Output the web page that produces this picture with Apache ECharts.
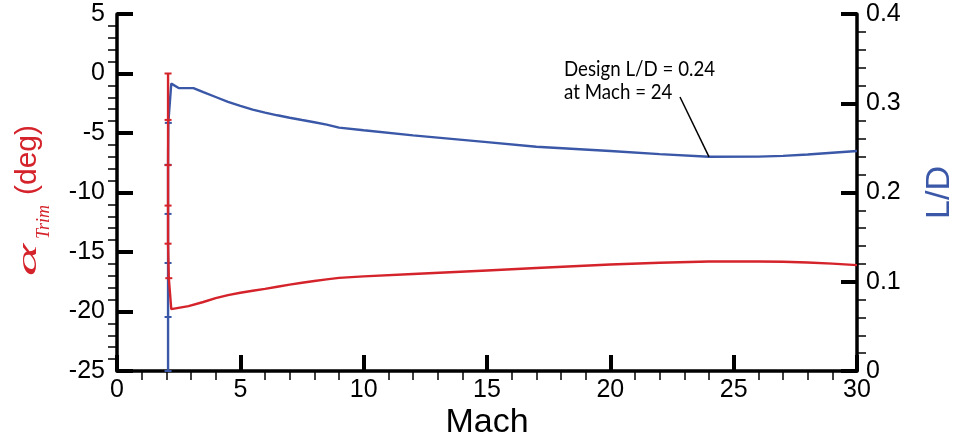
<!DOCTYPE html>
<html>
<head>
<meta charset="utf-8">
<script src="https://cdn.jsdelivr.net/npm/echarts@6/dist/echarts.min.js"></script>
<style>
  html, body { margin: 0; padding: 0; background: #ffffff; }
  #chart { width: 954px; height: 437px; }
</style>
</head>
<body>
<div id="chart"></div>
<script>
// Trim angle of attack versus Mach number (left axis)
const alphaMach = [2.07, 2.07, 2.07, 2.07, 2.07, 2.1, 2.2,
  2.9, 3.5, 4.0, 4.5, 5.0, 5.5, 6.0, 6.5, 7.0, 7.5, 8.0, 8.5, 9.0,
  10, 12, 15, 17, 20, 22, 24, 26, 27, 28, 29, 30];
const alphaTrim = [0, -3.9, -7.7, -11.1, -14.3, -17.2, -19.8,
  -19.55, -19.2, -18.88, -18.62, -18.42, -18.26, -18.1, -17.92, -17.74, -17.58, -17.44, -17.3, -17.17,
  -17.05, -16.85, -16.55, -16.35, -16.05, -15.9, -15.8, -15.8, -15.82, -15.88, -15.98, -16.1];

// Lift-to-drag ratio versus Mach number (right axis)
const ldMach = [2.07, 2.07, 2.07, 2.07, 2.07, 2.08, 2.2,
  2.5, 3.1, 3.5, 4.0, 4.5, 5.0, 5.5, 6.0, 6.5, 7.0, 7.5, 8.0, 8.5, 9.0,
  10, 12, 15, 17, 20, 22, 24, 26, 27, 28, 29, 30];
const liftDrag = [0, 0.0605, 0.121, 0.176, 0.231, 0.278, 0.322,
  0.317, 0.317, 0.3125, 0.307, 0.3015, 0.297, 0.2928, 0.2895, 0.2865, 0.2838, 0.2812, 0.2787, 0.276, 0.2727,
  0.2697, 0.264, 0.2565, 0.2513, 0.2465, 0.243, 0.24, 0.2402, 0.241, 0.2425, 0.2445, 0.2465];

// Number of leading points that belong to the low-Mach trim sweep (drawn with markers)
const sweepCount = 6;

// Design point
const designMach = 24;
const designLD = 0.24;

// Axis ranges
const machTicks = { min: 0, max: 30, interval: 5 };
const alphaTicks = { min: -25, max: 5, interval: 5 };
const ldTicks = { min: 0, max: 0.4, interval: 0.1 };

const RED = '#d5232b';
const BLUE = '#3a58a7';
const SANS = '"Liberation Sans", Arial, Helvetica, sans-serif';
const SERIF = '"Liberation Serif", "Times New Roman", serif';

function buildSeriesData(xs, ys) {
  return xs.map(function (x, i) {
    if (i < sweepCount) {
      return { value: [x, ys[i]], symbol: 'rect', symbolSize: [7, 2] };
    }
    return { value: [x, ys[i]], symbol: 'none' };
  });
}

function axisCommon() {
  return {
    axisLine: { show: true, onZero: false, lineStyle: { color: '#000', width: 3.5 } },
    axisTick: { show: true, inside: true, length: 16, lineStyle: { color: '#000', width: 4 } },
    minorTick: { show: true, splitNumber: 5, length: -9, lineStyle: { color: '#000', width: 1.5 } },
    splitLine: { show: false },
    minorSplitLine: { show: false },
    axisLabel: {
      color: '#000', fontFamily: SANS, fontSize: 25,
      showMinLabel: true, showMaxLabel: true, hideOverlap: false
    },
    nameMoveOverlap: false
  };
}

const chart = echarts.init(document.getElementById('chart'), null, { renderer: 'canvas' });

const xAxis = Object.assign(axisCommon(), {
  type: 'value',
  min: machTicks.min, max: machTicks.max, interval: machTicks.interval,
  name: 'Mach',
  nameLocation: 'middle',
  nameGap: 35,
  nameTextStyle: { color: '#000', fontFamily: SANS, fontSize: 34 }
});
xAxis.axisLabel.margin = 7;

const yLeft = Object.assign(axisCommon(), {
  type: 'value',
  position: 'left',
  min: alphaTicks.min, max: alphaTicks.max, interval: alphaTicks.interval
});
yLeft.axisLabel.margin = 12;

const yRight = Object.assign(axisCommon(), {
  type: 'value',
  position: 'right',
  min: ldTicks.min, max: ldTicks.max, interval: ldTicks.interval,
  name: 'L/D',
  nameLocation: 'middle',
  nameGap: 66,
  nameTextStyle: { color: BLUE, fontFamily: SANS, fontSize: 34 }
});
yRight.axisLabel.margin = 9;
yRight.axisLabel.formatter = function (v) { return v === 0 ? '0' : v.toFixed(1); };

// Left axis title: alpha with an italic "Trim" subscript, then the unit
const leftTitle = {
  type: 'group',
  x: 38,
  y: 276,
  rotation: Math.PI / 2,
  silent: true,
  children: [
    {
      type: 'text',
      x: 0, y: -9.7,
      scaleX: 2.2,
      style: { text: 'α', fontFamily: SERIF, fontStyle: 'italic', fontSize: 28, fill: RED, align: 'left', verticalAlign: 'middle' }
    },
    {
      type: 'text',
      x: 37, y: 6,
      style: { text: 'Trim', fontFamily: SERIF, fontStyle: 'italic', fontSize: 18, fill: RED, align: 'left', verticalAlign: 'middle' }
    },
    {
      type: 'text',
      x: 81, y: -10.4,
      style: { text: '(deg)', fontFamily: SANS, fontSize: 30, fill: RED, align: 'left', verticalAlign: 'middle' }
    }
  ]
};

const option = {
  backgroundColor: '#ffffff',
  animation: false,
  grid: {
    left: 117, right: 97, top: 14, bottom: 66,
    containLabel: false,
    outerBoundsMode: 'none'
  },
  xAxis: xAxis,
  yAxis: [yLeft, yRight],
  series: [
    {
      name: 'alpha',
      type: 'line',
      xAxisIndex: 0,
      yAxisIndex: 0,
      data: buildSeriesData(alphaMach, alphaTrim),
      showSymbol: true,
      showAllSymbol: true,
      itemStyle: { color: RED },
      lineStyle: { color: RED, width: 2.4 },
      emphasis: { disabled: true },
      silent: true,
      z: 3
    },
    {
      name: 'LD',
      type: 'line',
      xAxisIndex: 0,
      yAxisIndex: 1,
      data: buildSeriesData(ldMach, liftDrag),
      showSymbol: true,
      showAllSymbol: true,
      itemStyle: { color: BLUE },
      lineStyle: { color: BLUE, width: 2.4 },
      emphasis: { disabled: true },
      silent: true,
      z: 2,
      markLine: {
        silent: true,
        symbol: ['none', 'none'],
        label: { show: false },
        lineStyle: { color: '#000', width: 1.5, type: 'solid' },
        emphasis: { disabled: true },
        data: [[{ coord: [designMach, designLD] }, { x: 680, y: 97 }]]
      }
    }
  ],
  graphic: [
    leftTitle,
    {
      type: 'text',
      x: 564,
      y: 58,
      scaleX: 0.89,
      silent: true,
      style: {
        text: 'Design L/D = ' + designLD.toFixed(2) + '\nat Mach = ' + designMach,
        fontFamily: 'Lato, "Liberation Sans", sans-serif',
        fontSize: 21,
        lineHeight: 22.5,
        fill: '#000',
        align: 'left',
        verticalAlign: 'top'
      }
    }
  ]
};

chart.setOption(option);
</script>
</body>
</html>
